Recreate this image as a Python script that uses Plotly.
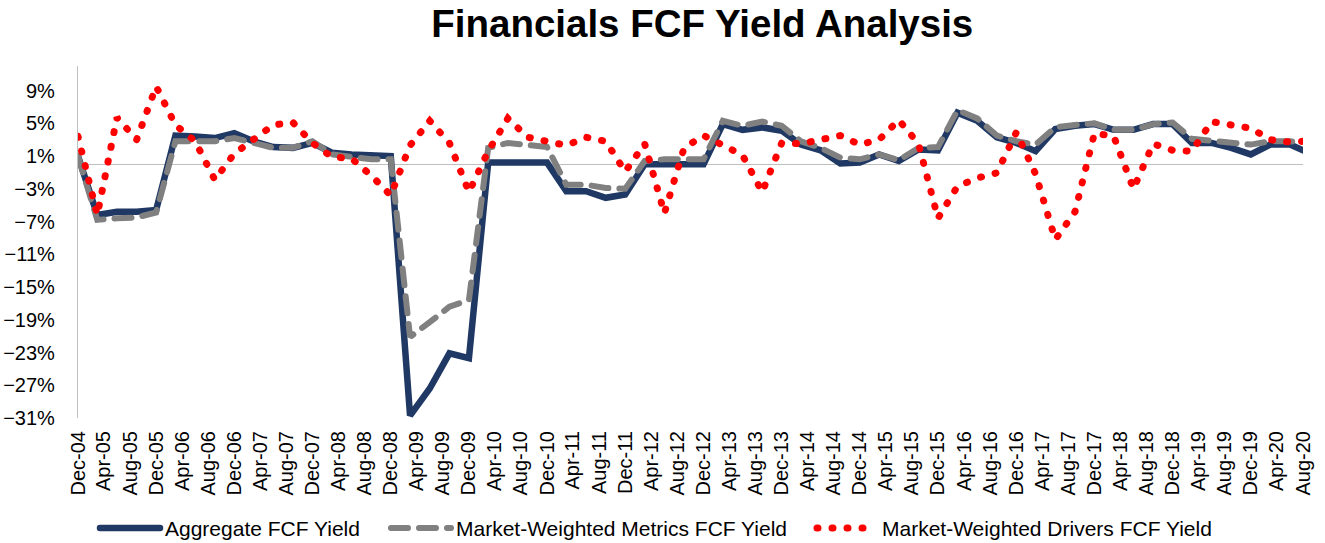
import pandas as pd
import plotly.graph_objects as go

# Quarterly observation dates (Dec-04 ... Jun-20) plus the final Aug-20 point
dates = list(pd.date_range("2004-12-01", "2020-06-01", freq="3MS").strftime("%Y-%m-%d")) + ["2020-08-01"]

aggregate_fcf_yield = [
    1.0, -6.2, -5.8, -5.8, -5.6, 3.5, 3.4, 3.2, 3.8, 2.8, 2.1, 2.0, 2.6, 1.4, 1.2, 1.0,
    1.0, -30.7, -27.4, -23.1, -23.7, 0.2, 0.2, 0.2, 0.2, -3.3, -3.3, -4.1, -3.7, 0.0, 0.0, 0.0,
    0.0, 4.9, 4.2, 4.5, 4.1, 2.4, 1.7, 0.1, 0.2, 1.2, 0.4, 1.8, 1.7, 6.3, 5.3, 3.3,
    2.6, 1.6, 4.3, 4.7, 4.9, 4.2, 4.2, 4.9, 4.9, 2.6, 2.6, 2.0, 1.2, 2.4, 2.4, 1.7,
]
metrics_fcf_yield = [
    1.0, -6.8, -6.6, -6.5, -5.9, 2.8, 2.8, 2.8, 3.2, 2.6, 2.0, 2.0, 2.8, 1.2, 0.9, 0.6,
    0.6, -21.1, -19.3, -17.4, -16.6, 2.0, 2.6, 2.4, 2.1, -2.5, -2.5, -2.9, -3.0, 0.4, 0.6, 0.6,
    0.6, 5.3, 4.7, 5.2, 4.7, 2.8, 2.0, 0.8, 0.6, 1.2, 0.5, 2.0, 2.1, 6.6, 5.6, 3.5,
    2.8, 2.4, 4.5, 4.8, 5.0, 4.2, 4.2, 4.9, 5.1, 3.1, 2.9, 2.6, 2.4, 2.8, 2.8, 2.6,
]
drivers_fcf_yield = [
    3.4, -6.2, 5.7, 3.0, 9.5, 4.8, 2.8, -1.9, 1.3, 3.0, 4.8, 5.1, 2.6, 0.9, 0.7, -1.4,
    -3.8, 2.3, 5.3, 2.6, -3.4, 1.6, 5.6, 3.3, 2.9, 2.3, 3.3, 2.8, -0.9, 2.5, -6.0, 2.0,
    3.5, 2.4, 1.1, -3.4, 2.6, 2.5, 3.0, 3.5, 2.4, 3.0, 5.4, 2.5, -6.6, -2.7, -1.7, -1.05,
    3.9, -1.2, -9.2, -5.8, 3.8, 3.4, -3.0, 2.5, 1.7, 1.6, 5.2, 4.7, 4.4, 3.0, 2.7, 2.8,
]

series_names = [
    "Aggregate FCF Yield",
    "Market-Weighted Metrics FCF Yield",
    "Market-Weighted Drivers FCF Yield",
]

FONT = "Liberation Sans, Arial, sans-serif"
W, H = 1325, 543

fig = go.Figure()
fig.add_trace(go.Scatter(x=dates, y=aggregate_fcf_yield, name=series_names[0], mode="lines",
                         line=dict(color="#1F3864", width=6.5), legend="legend"))
fig.add_trace(go.Scatter(x=dates, y=metrics_fcf_yield, name=series_names[1], mode="lines",
                         line=dict(color="#808080", width=6, dash="17px,11px"), legend="legend2"))
fig.add_trace(go.Scatter(x=dates, y=drivers_fcf_yield, name=series_names[2], mode="lines",
                         line=dict(color="#FF0000", width=7, dash="1px,14px"), legend="legend3"))


def legend_at(px_left):
    return dict(orientation="h", x=px_left / W, xanchor="left", xref="container",
                y=0.027, yanchor="middle", yref="container",
                font=dict(family=FONT, size=21, color="#000000"),
                itemwidth=60, bgcolor="rgba(0,0,0,0)")


fig.update_layout(
    width=W, height=H, autosize=False,
    margin=dict(l=78, r=22, t=66, b=125, autoexpand=False),
    paper_bgcolor="white", plot_bgcolor="white",
    font=dict(family=FONT, color="#000000"),
    title=dict(text="Financials FCF Yield Analysis", x=0.53, xref="container", xanchor="center",
               y=0.957, yref="container", yanchor="middle",
               font=dict(family=FONT, size=38.5, weight=700, color="#000000")),
    showlegend=True,
    legend=legend_at(95),
    legend2=legend_at(386),
    legend3=legend_at(812),
    hovermode=False,
)

fig.update_xaxes(
    type="date", range=["2004-12-01", "2020-08-01"], automargin=False,
    tick0="2004-12-01", dtick="M4", tickformat="%b-%y", tickangle=-90,
    showgrid=False, showline=False, zeroline=False,
    ticks="", ticklabelstandoff=8,
    tickfont=dict(family=FONT, size=20, color="#000000"),
)
fig.update_yaxes(
    range=[-31, 12], tick0=-31, dtick=4, ticksuffix="%", automargin=False,
    showgrid=False, showline=True, linecolor="#BFBFBF", linewidth=1.3,
    zeroline=True, zerolinecolor="#BFBFBF", zerolinewidth=1.3,
    ticks="", ticklabelstandoff=18,
    tickfont=dict(family=FONT, size=20, color="#000000"),
)

post = """
document.body.style.margin='0';
var st=document.createElement('style');
st.innerHTML='path.js-line {stroke-linecap: round !important;}';
document.head.appendChild(st);
"""
fig.write_html("out.html", post_script=post, config={"displayModeBar": False})
